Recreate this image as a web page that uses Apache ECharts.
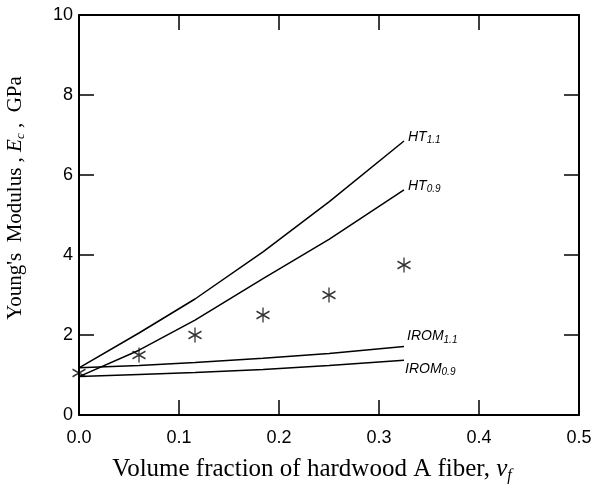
<!DOCTYPE html>
<html>
<head>
<meta charset="utf-8">
<script src="https://cdn.jsdelivr.net/npm/echarts@6/dist/echarts.min.js"></script>
<style>
  html, body { margin: 0; padding: 0; background: #fff; }
  #chart { width: 594px; height: 492px; }
</style>
</head>
<body>
<div id="chart"></div>
<script>
// volume fraction values where everything was evaluated
var vf = [0, 0.06, 0.116, 0.184, 0.25, 0.325];
// measured modulus (GPa)
var measured = [1.05, 1.5, 2.0, 2.5, 3.0, 3.75];
// model curves
var ht11 = [1.18, 2.05, 2.9, 4.08, 5.33, 6.85];
var ht09 = [0.96, 1.62, 2.37, 3.41, 4.39, 5.63];
var irom11 = [1.18, 1.24, 1.31, 1.42, 1.54, 1.71];
var irom09 = [0.96, 1.01, 1.06, 1.14, 1.24, 1.37];

function pairs(arr) {
  return vf.map(function (v, i) { return [v, arr[i]]; });
}

var labelRich = {
  i: { fontFamily: 'Liberation Sans', fontStyle: 'italic', fontSize: 14, color: '#000', lineHeight: 17 },
  s: { fontFamily: 'Liberation Sans', fontStyle: 'italic', fontSize: 10, color: '#000', lineHeight: 8, verticalAlign: 'bottom' }
};

function curve(name, arr, txt, off) {
  return {
    name: name,
    type: 'line',
    data: pairs(arr),
    showSymbol: false,
    lineStyle: { color: '#000', width: 1.5 },
    endLabel: {
      show: true,
      formatter: txt,
      offset: off,
      distance: 4,
      rich: labelRich
    },
    z: 2
  };
}

var axisFont = { fontFamily: 'Liberation Sans', fontSize: 18, color: '#000' };
var lineCol = { color: '#000', width: 2 };
var tickStyle = { inside: true, length: 15, lineStyle: { color: '#000', width: 1.5 } };

var myChart = echarts.init(document.getElementById('chart'));
var option = {
  animation: false,
  grid: { left: 79, top: 15, right: 15, bottom: 77, containLabel: false, outerBoundsMode: 'none' },
  xAxis: [
    {
      type: 'value', min: 0, max: 0.5, interval: 0.1,
      position: 'bottom',
      axisLine: { onZero: false, lineStyle: lineCol },
      axisTick: tickStyle,
      axisLabel: Object.assign({ margin: 14, formatter: function (v) { return v.toFixed(1); } }, axisFont),
      splitLine: { show: false },
      name: 'Volume fraction of hardwood A fiber, {i|v}{s|f}',
      nameLocation: 'middle',
      nameGap: 40,
      nameTextStyle: {
        fontFamily: 'Liberation Serif', fontSize: 25, color: '#000', lineHeight: 29,
        padding: [0, 34, 0, 0],
        rich: {
          i: { fontFamily: 'Liberation Serif', fontStyle: 'italic', fontSize: 25, lineHeight: 29, color: '#000' },
          s: { fontFamily: 'Liberation Serif', fontStyle: 'italic', fontSize: 16, lineHeight: 15, verticalAlign: 'bottom', color: '#000' }
        }
      }
    },
    {
      type: 'value', min: 0, max: 0.5, interval: 0.1,
      position: 'top',
      axisLine: { onZero: false, lineStyle: lineCol },
      axisTick: tickStyle,
      axisLabel: { show: false },
      splitLine: { show: false }
    }
  ],
  yAxis: [
    {
      type: 'value', min: 0, max: 10, interval: 2,
      position: 'left',
      axisLine: { show: true, onZero: false, lineStyle: lineCol },
      axisTick: Object.assign({ show: true }, tickStyle),
      axisLabel: Object.assign({ margin: 6 }, axisFont),
      splitLine: { show: false },
      name: "Young's  Modulus , {i|E}{s|c} ,  GPa",
      nameLocation: 'middle',
      nameGap: 52,
      nameTextStyle: {
        fontFamily: 'Liberation Serif', fontSize: 21, color: '#000', lineHeight: 24,
        padding: [0, 0, 0, 34],
        rich: {
          i: { fontFamily: 'Liberation Serif', fontStyle: 'italic', fontSize: 21, lineHeight: 24, color: '#000' },
          s: { fontFamily: 'Liberation Serif', fontStyle: 'italic', fontSize: 13, lineHeight: 12, verticalAlign: 'bottom', color: '#000' }
        }
      }
    },
    {
      type: 'value', min: 0, max: 10, interval: 2,
      position: 'right',
      axisLine: { show: true, onZero: false, lineStyle: lineCol },
      axisTick: Object.assign({ show: true }, tickStyle),
      axisLabel: { show: false },
      splitLine: { show: false }
    }
  ],
  series: [
    curve('HT1.1', ht11, '{i|HT}{s|1.1}', [0, -4]),
    curve('HT0.9', ht09, '{i|HT}{s|0.9}', [0, -4]),
    curve('IROM1.1', irom11, '{i|IROM}{s|1.1}', [-1, -10]),
    curve('IROM0.9', irom09, '{i|IROM}{s|0.9}', [-3, 9]),
    {
      name: 'measured',
      type: 'scatter',
      data: pairs(measured),
      symbol: 'path://M6,0L6,14M0,3.5L12,10.5M0,10.5L12,3.5',
      symbolSize: [13, 15],
      itemStyle: { color: 'none', borderColor: '#000', borderWidth: 1.4 },
      z: 3
    }
  ]
};
myChart.setOption(option);
</script>
</body>
</html>
